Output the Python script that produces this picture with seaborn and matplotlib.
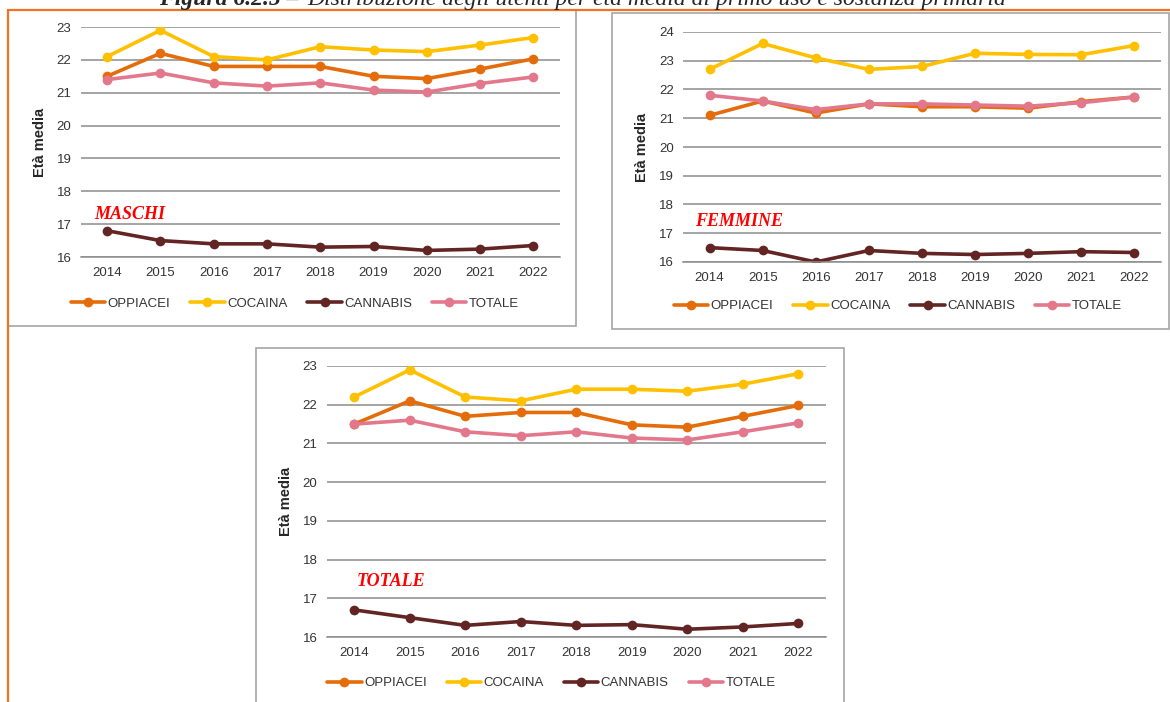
import numpy as np
import pandas as pd
import seaborn as sns
import matplotlib.pyplot as plt
from matplotlib.patches import Rectangle
from matplotlib.lines import Line2D

anni = ["2014", "2015", "2016", "2017", "2018", "2019", "2020", "2021", "2022"]
sostanze = ["OPPIACEI", "COCAINA", "CANNABIS", "TOTALE"]
colori = ["#E46C0A", "#FFC000", "#632523", "#E3788C"]

# MASCHI
m_oppiacei = [21.5, 22.2, 21.8, 21.8, 21.8, 21.5, 21.43, 21.72, 22.03]
m_cocaina = [22.1, 22.9, 22.1, 22.0, 22.4, 22.3, 22.25, 22.45, 22.68]
m_cannabis = [16.8, 16.5, 16.4, 16.4, 16.3, 16.32, 16.2, 16.24, 16.35]
m_totale = [21.4, 21.6, 21.3, 21.2, 21.3, 21.08, 21.02, 21.28, 21.48]

# FEMMINE
f_oppiacei = [21.1, 21.6, 21.18, 21.5, 21.4, 21.4, 21.35, 21.58, 21.74]
f_cocaina = [22.7, 23.6, 23.1, 22.7, 22.8, 23.26, 23.22, 23.21, 23.53]
f_cannabis = [16.5, 16.4, 16.0, 16.4, 16.3, 16.26, 16.3, 16.36, 16.33]
f_totale = [21.8, 21.6, 21.3, 21.5, 21.5, 21.46, 21.42, 21.54, 21.74]

# TOTALE
t_oppiacei = [21.5, 22.1, 21.7, 21.8, 21.8, 21.48, 21.42, 21.7, 21.98]
t_cocaina = [22.2, 22.9, 22.2, 22.1, 22.4, 22.4, 22.35, 22.53, 22.8]
t_cannabis = [16.7, 16.5, 16.3, 16.4, 16.3, 16.32, 16.2, 16.26, 16.35]
t_totale = [21.5, 21.6, 21.3, 21.2, 21.3, 21.14, 21.09, 21.3, 21.53]

W, H = 1170, 702
sns.set_style("white")
plt.rcParams["font.family"] = ["Liberation Sans", "DejaVu Sans"]

fig = plt.figure(figsize=(W / 100, H / 100), dpi=100)


def fx(px):
    return px / W


def fy(py):
    return 1 - py / H


def make_df(series):
    rows = []
    for nome, valori in zip(sostanze, series):
        for anno, v in zip(anni, valori):
            rows.append({"anno": anno, "eta": v, "sostanza": nome})
    return pd.DataFrame(rows)


def pannello(rect, series, ymax, titolo, tit_pos, leg_pos):
    x0, y0, x1, y1 = rect
    ax = fig.add_axes([fx(x0), fy(y1), fx(x1) - fx(x0), fy(y0) - fy(y1)])
    df = make_df(series)
    sns.lineplot(data=df, x="anno", y="eta", hue="sostanza", hue_order=sostanze,
                 palette=colori, marker="o", markersize=7, markeredgewidth=0,
                 linewidth=2.6, sort=False, ax=ax)
    ax.set_xlim(-0.5, len(anni) - 0.5)
    ax.set_ylim(16, ymax)
    ax.set_yticks(np.arange(16, ymax + 1))
    ax.set_xticks(np.arange(-0.5, len(anni)), minor=True)
    ax.grid(axis="y", color="#8C8C8C", linewidth=1.1)
    ax.set_axisbelow(True)
    for s in ["top", "right", "left"]:
        ax.spines[s].set_visible(False)
    ax.spines["bottom"].set_color("#8C8C8C")
    ax.spines["bottom"].set_linewidth(1.1)
    ax.tick_params(axis="x", which="major", length=0, pad=7, labelsize=9.5, labelcolor="#333333")
    ax.tick_params(axis="x", which="minor", length=4, width=1, color="#8C8C8C", direction="out")
    ax.tick_params(axis="y", length=0, pad=6.5, labelsize=9.5, labelcolor="#333333")
    ax.set_xlabel("")
    ax.set_ylabel("Età media", fontsize=10.5, fontweight="bold")
    ax.yaxis.set_label_coords(-33.5 / (x1 - x0), 0.5)
    ax.text(tit_pos[0], tit_pos[1], titolo, transform=ax.transAxes, color="#FF0000",
            fontsize=13, fontweight="bold", fontstyle="italic",
            family=["Liberation Serif", "DejaVu Serif"], va="baseline", ha="left")
    handles, labels = ax.get_legend_handles_labels()
    ax.legend(handles, labels, loc="center", bbox_to_anchor=(fx(leg_pos[0]), fy(leg_pos[1])),
              bbox_transform=fig.transFigure, ncol=4, frameon=False, fontsize=9.5,
              handlelength=2.6, handletextpad=0.2, columnspacing=1.5)
    for t in ax.get_legend().get_texts():
        t.set_color("#333333")
    return ax


# cornici dei pannelli
for (bx0, by0, bx1, by1) in [(8, 10, 576, 326), (612, 13, 1169, 329), (256, 348, 844, 710)]:
    fig.add_artist(Rectangle((fx(bx0), fy(by1)), fx(bx1) - fx(bx0), fy(by0) - fy(by1),
                             transform=fig.transFigure, fill=False,
                             edgecolor="#A6A6A6", linewidth=1.2))

pannello((80.5, 27, 560, 257), [m_oppiacei, m_cocaina, m_cannabis, m_totale], 23,
         "MASCHI", (0.028, 0.165), (295, 304))
pannello((683, 32, 1161, 262), [f_oppiacei, f_cocaina, f_cannabis, f_totale], 24,
         "FEMMINE", (0.025, 0.157), (898, 306))
pannello((326.5, 366, 826, 637), [t_oppiacei, t_cocaina, t_cannabis, t_totale], 23,
         "TOTALE", (0.061, 0.188), (551.5, 683))

# bordo arancione della pagina
fig.add_artist(Line2D([fx(8), 1], [fy(10), fy(10)], color="#F07322", linewidth=1.6))
fig.add_artist(Line2D([fx(8), fx(8)], [0, fy(10)], color="#F07322", linewidth=1.6))

# titolo della figura (tagliato in alto come nell'originale)
serif = ["Liberation Serif", "DejaVu Serif"]
fig.text(fx(299), fy(5), "Figura 6.2.5 –", ha="right", va="baseline", fontsize=17,
         fontweight="bold", fontstyle="italic", family=serif)
fig.text(fx(307), fy(5), "Distribuzione degli utenti per età media al primo uso e sostanza primaria",
         ha="left", va="baseline", fontsize=17, fontstyle="italic", family=serif)

fig.savefig("out.png", dpi=100, facecolor="white")
